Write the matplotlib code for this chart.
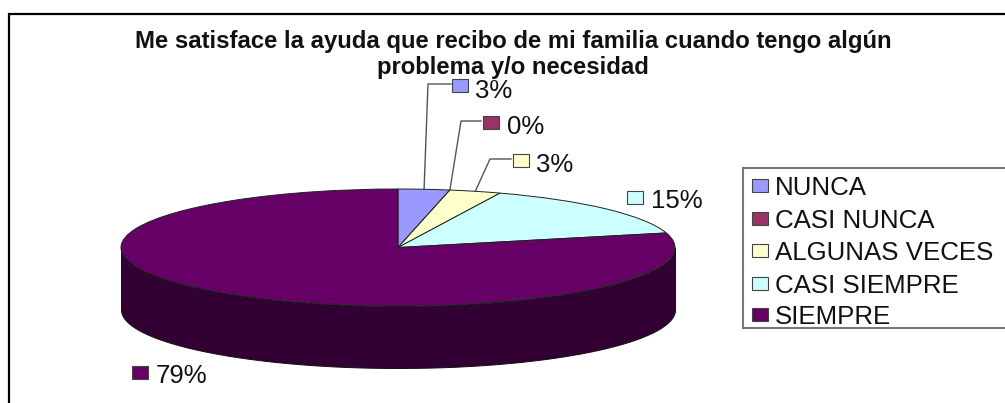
import numpy as np
import matplotlib
matplotlib.use('Agg')
import matplotlib.pyplot as plt
from matplotlib.patches import Rectangle

plt.rcParams['font.family'] = ['Liberation Sans', 'DejaVu Sans']

categories = ['NUNCA', 'CASI NUNCA', 'ALGUNAS VECES', 'CASI SIEMPRE', 'SIEMPRE']
values = [3, 0, 3, 15, 79]
colors = ['#9999FF', '#993366', '#FFFFCC', '#CCFFFF', '#660066']
title = 'Me satisface la ayuda que recibo de mi familia cuando tengo algún\nproblema y/o necesidad'

W, H = 1005, 403
cx, cy, rx, ry = 398, 247.5, 277, 58.5
depth = 62 / ry

fig = plt.figure(figsize=(W / 100, H / 100), dpi=100, facecolor='white')

# background axes in pixel units, y going down
bg = fig.add_axes([0, 0, 1, 1])
bg.set_xlim(0, W)
bg.set_ylim(H, 0)
bg.axis('off')

# outer frame, only top and left fall inside the canvas
bg.plot([8.5, 8.5, W], [H, 13.5, 13.5], color='black', lw=1.6, solid_joinstyle='miter')

bg.text(513, 54.5, title, ha='center', va='center', fontsize=17.2, fontweight='bold',
        color='#111111', linespacing=1.17)

# pie axes sit exactly on the ellipse, aspect left free to flatten it
ax = fig.add_axes([(cx - rx) / W, (H - cy - ry) / H, 2 * rx / W, 2 * ry / H], zorder=2)
ax.pie(values, colors=colors, startangle=90, counterclock=False, radius=1,
       wedgeprops={'edgecolor': '#222222', 'linewidth': 0.7, 'clip_on': False})
ax.set_aspect('auto')
ax.set_xlim(-1, 1)
ax.set_ylim(-1, 1)
ax.axis('off')

# side wall of the disc
t = np.linspace(np.pi, 2 * np.pi, 300)
ax.fill_between(np.cos(t), np.sin(t) - depth, np.sin(t), color='#330033', edgecolor='#111111',
                linewidth=0.7, clip_on=False, zorder=0)

# data labels: swatch corner, text x, text y
label_pos = [(452, 79, 475, 91), (483, 116, 507, 127), (513, 154, 536, 165),
             (627, 191, 651, 201), (132, 366, 156, 376)]
# leader lines for the three thin slices
leader_elbow = [(428, 84, 451), (461, 121, 481), (490, 159, 511)]

fracs = np.cumsum([0] + values) / sum(values)
for i, (sx, sy, tx, ty) in enumerate(label_pos):
    bg.add_patch(Rectangle((sx, sy), 16, 13, facecolor=colors[i], edgecolor='#444444', lw=0.8))
    bg.text(tx, ty, f'{values[i]}%', ha='left', va='center', fontsize=18.5, color='#111111')
    if i < len(leader_elbow):
        mid = 2 * np.pi * (fracs[i] + fracs[i + 1]) / 2
        ex, ey, ee = leader_elbow[i]
        bg.plot([cx + rx * np.sin(mid), ex, ee], [cy - ry * np.cos(mid), ey, ey],
                color='#555555', lw=1.0)

# legend box runs off the right edge
bg.add_patch(Rectangle((742.5, 167.5), 300, 160.5, facecolor='white', edgecolor='#777777', lw=1.5))
legend_y = [185, 218, 250, 283, 314]
for name, col, y in zip(categories, colors, legend_y):
    bg.add_patch(Rectangle((752, y - 6.5), 16, 13, facecolor=col, edgecolor='#444444', lw=0.8))
    bg.text(775, y + 3, name, ha='left', va='center', fontsize=18.6, color='#111111')

fig.savefig('out.png', dpi=100)
